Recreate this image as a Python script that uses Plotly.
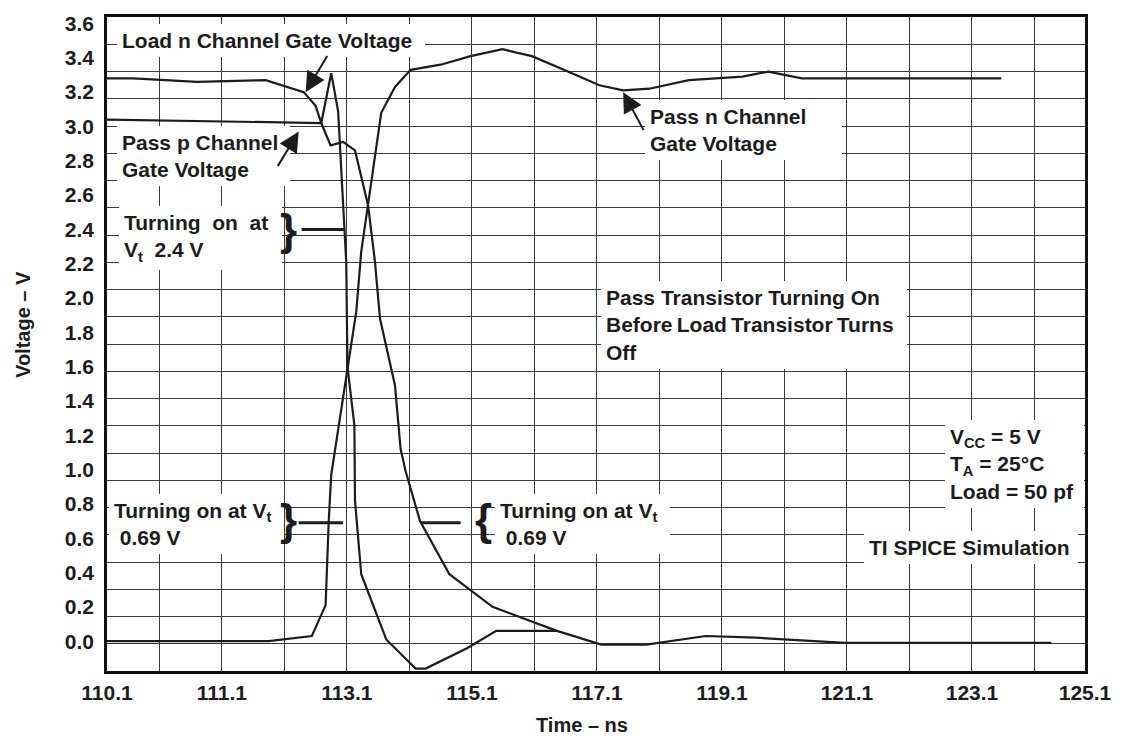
import plotly.graph_objects as go

# ---- SPICE waveforms: time (ns) and gate voltage (V) ----
pass_n_time = [109.26, 111.85, 112.54, 112.76, 112.81, 112.85, 113.12, 113.25, 113.33,
               113.65, 113.87, 114.12, 114.60, 115.08, 115.59, 116.06, 116.57, 117.14,
               117.52, 117.94, 118.57, 119.43, 119.84, 120.38, 123.57]
pass_n_volts = [0.00, 0.00, 0.03, 0.21, 0.70, 0.97, 1.61, 1.92, 2.27,
                3.08, 3.23, 3.33, 3.36, 3.41, 3.45, 3.41, 3.33, 3.24,
                3.21, 3.22, 3.27, 3.29, 3.32, 3.28, 3.28]

load_n_time = [109.26, 109.68, 110.71, 111.80, 112.41, 112.60, 112.69, 112.84, 113.04,
               113.23, 113.44, 113.55, 113.63, 113.87, 113.96, 114.04, 114.27, 114.74,
               115.03, 115.43, 116.46, 117.17, 117.89, 118.84, 119.64, 121.07, 122.13,
               124.37]
load_n_volts = [3.28, 3.28, 3.26, 3.27, 3.20, 3.12, 3.02, 2.89, 2.91,
                2.86, 2.54, 2.21, 1.88, 1.49, 1.12, 0.99, 0.70, 0.39,
                0.31, 0.20, 0.06, -0.02, -0.02, 0.03, 0.02, -0.01, -0.01,
                -0.01]

pass_p_time = [109.26, 112.69, 112.85, 112.96, 113.09, 113.11, 113.22, 113.23, 113.33,
               113.73, 114.20, 114.36, 115.03, 115.49, 116.46]
pass_p_volts = [3.04, 3.02, 3.31, 3.09, 2.21, 1.60, 1.26, 0.82, 0.39,
                0.01, -0.16, -0.16, -0.04, 0.06, 0.06]

# threshold levels called out on the chart
vt_pass_p = 2.4
vt_n = 0.69

# ---- axes ----
x_range = [109.263, 124.908]
y_range = [-0.174, 3.638]

x_tick_values = [109.263, 111.1, 113.1, 115.1, 117.1, 119.1, 121.1, 123.1, 124.908]
x_tick_labels = ["110.1", "111.1", "113.1", "115.1", "117.1", "119.1", "121.1",
                 "123.1", "125.1"]
x_unlabeled_grid = [110.1, 112.1, 114.1, 116.1, 118.1, 120.1, 122.1, 124.1]

y_tick_values = [0.0, 0.2, 0.4, 0.6, 0.8, 1.0, 1.2, 1.4, 1.6, 1.8,
                 2.0, 2.2, 2.4, 2.6, 2.8, 3.0, 3.2, 3.4, 3.6]
y_tick_labels = ["0.0", "0.2", "0.4", "0.6", "0.8", "1.0", "1.2", "1.4", "1.6", "1.8",
                 "2.0", "2.2", "2.4", "2.6", "2.8", "3.0", "3.2", "3.4", "3.6"]

INK = "#1c1c1c"
GRID = "#3a3a3a"
FONT = "Liberation Sans, Arial, sans-serif"


def falling_crossing(times, volts, level, after=0):
    """Time at which a waveform first falls through `level` after index `after`."""
    for i in range(after, len(times) - 1):
        v0, v1 = volts[i], volts[i + 1]
        if v0 >= level > v1:
            return times[i] + (times[i + 1] - times[i]) * (v0 - level) / (v0 - v1)
    return times[-1]


fig = go.Figure()
for t, v in [(pass_n_time, pass_n_volts), (load_n_time, load_n_volts),
             (pass_p_time, pass_p_volts)]:
    fig.add_trace(go.Scatter(x=t, y=v, mode="lines",
                             line=dict(color=INK, width=2.2),
                             showlegend=False, hoverinfo="skip"))

# ---- threshold pointer lines ----
p_peak = pass_p_volts.index(max(pass_p_volts))
t_p_24 = falling_crossing(pass_p_time, pass_p_volts, vt_pass_p, p_peak)
t_l_069 = falling_crossing(load_n_time, load_n_volts, vt_n)

shapes = [
    dict(type="line", xref="x", yref="y", x0=112.376, x1=t_p_24, y0=vt_pass_p, y1=vt_pass_p,
         line=dict(color=INK, width=3)),
    dict(type="line", xref="x", yref="y", x0=112.33, x1=113.04, y0=vt_n, y1=vt_n,
         line=dict(color=INK, width=3)),
    dict(type="line", xref="x", yref="y", x0=t_l_069, x1=114.92, y0=vt_n, y1=vt_n,
         line=dict(color=INK, width=3)),
]

annotations = []


def label(x, y, text, width):
    annotations.append(dict(
        x=x, y=y, xref="x", yref="y", text=text, showarrow=False,
        xanchor="left", yanchor="middle", align="left", width=width,
        bgcolor="white", borderpad=5, borderwidth=0,
        font=dict(family=FONT, size=21, color=INK, weight="bold")))


def arrow(head, tail):
    annotations.append(dict(
        x=head[0], y=head[1], ax=tail[0], ay=tail[1],
        xref="x", yref="y", axref="x", ayref="y", text="",
        showarrow=True, arrowhead=2, arrowsize=2.0, arrowwidth=2,
        arrowcolor=INK, standoff=0))


def brace(x, y, char):
    annotations.append(dict(
        x=x, y=y, xref="x", yref="y", text=char, showarrow=False,
        xanchor="center", yanchor="middle",
        font=dict(family=FONT, size=44, color=INK, weight="bold")))


label(109.42, 3.50, "Load n Channel Gate Voltage", 298)
label(109.42, 2.83, "Pass p Channel<br>Gate Voltage", 163)
label(109.45, 2.35, "Turning\u00a0 on\u00a0 at<br>V<sub>t</sub>\u00a0 2.4 V", 153)
label(109.30, 0.684, "Turning on at V<sub>t</sub><br>\u00a00.69 V", 165)
label(115.47, 0.684, "Turning on at V<sub>t</sub><br>\u00a00.69 V", 165)
label(117.87, 2.98, "Pass n Channel<br>Gate Voltage", 187)
label(117.16, 1.84, "Pass Transistor Turning On<br>"
      "Before\u2009Load\u2009Transistor\u2009Turns<br>Off", 296)
label(122.67, 1.03, "V<sub>CC</sub> = 5 V<br>T<sub>A</sub> = 25\u00b0C<br>Load = 50 pf", 129)
label(121.38, 0.545, "TI SPICE Simulation", 204)

arrow((112.44, 3.20), (112.80, 3.42))
arrow((112.33, 2.97), (111.98, 2.76))
arrow((117.52, 3.20), (117.86, 2.97))

brace(112.17, vt_pass_p, "}")
brace(112.16, vt_n + 0.02, "}")
brace(115.28, vt_n + 0.02, "{")

# axis titles
annotations.append(dict(x=-0.0853, y=0.530, xref="paper", yref="paper",
                        text="Voltage \u2013 V", textangle=-90, showarrow=False,
                        xanchor="center", yanchor="middle",
                        font=dict(family=FONT, size=20, color=INK, weight="bold")))
annotations.append(dict(x=0.4853, y=-0.082, xref="paper", yref="paper",
                        text="Time \u2013 ns", showarrow=False,
                        xanchor="center", yanchor="middle",
                        font=dict(family=FONT, size=20, color=INK, weight="bold")))

tick_font = dict(family=FONT, size=21, color=INK, weight="bold")

fig.update_layout(
    width=1124, height=738,
    margin=dict(l=107, r=32, t=13, b=67),
    paper_bgcolor="white", plot_bgcolor="white",
    shapes=shapes, annotations=annotations,
    xaxis=dict(range=x_range, tickmode="array", tickvals=x_tick_values,
               ticktext=x_tick_labels, showgrid=True, gridcolor=GRID, gridwidth=1,
               zeroline=False, showline=True, mirror=True, linecolor="#111",
               linewidth=2.5, ticks="", tickfont=tick_font, ticklabelstandoff=1,
               minor=dict(tickmode="array", tickvals=x_unlabeled_grid,
                          showgrid=True, gridcolor=GRID, gridwidth=1, ticks="")),
    yaxis=dict(range=y_range, tickmode="array", tickvals=y_tick_values,
               ticktext=y_tick_labels, showgrid=False, zeroline=False,
               showline=True, mirror=True, linecolor="#111", linewidth=2.5,
               ticks="", tickfont=tick_font, ticklabelstandoff=6,
               minor=dict(tickmode="linear", tick0=3.638, dtick=0.15886,
                          showgrid=True, gridcolor=GRID, gridwidth=1, ticks="")),
)

fig.write_html("out.html")
